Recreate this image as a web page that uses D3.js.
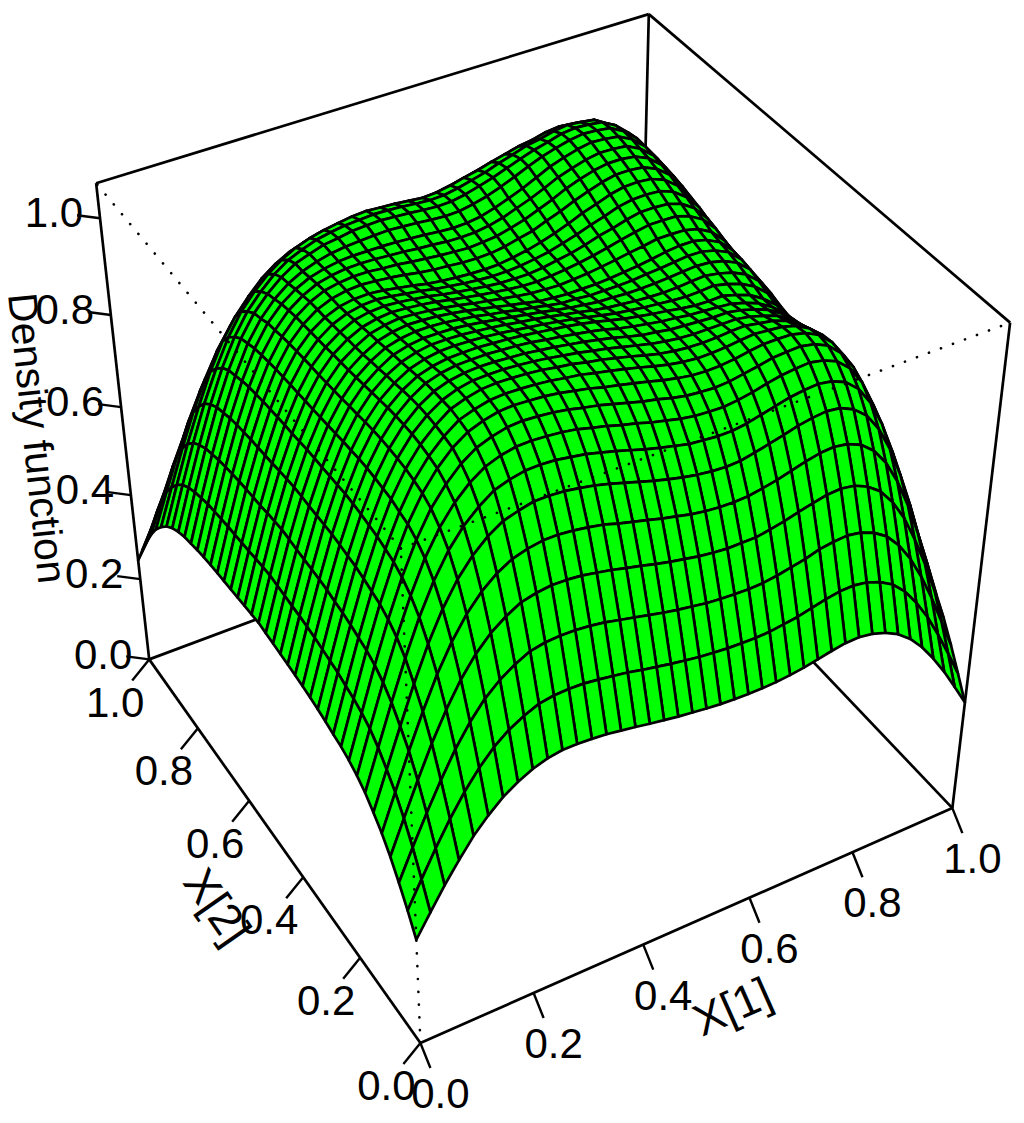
<!DOCTYPE html>
<html>
<head>
<meta charset="utf-8">
<style>
  html, body { margin: 0; padding: 0; background: #fff; }
  text { font-family: "Liberation Sans", Arial, sans-serif; fill: #000; }
</style>
<script src="https://cdn.jsdelivr.net/npm/d3@7"></script>
</head>
<body>
<div id="chart"></div>
<script>
var w = 1024;
var h = 1123;

var tickValues = [0, 0.2, 0.4, 0.6, 0.8, 1];
var tickLabels = ["0.0", "0.2", "0.4", "0.6", "0.8", "1.0"];
var zTop = 1.07;

// grid of the surface, one row per X[2], one column per X[1]
var gridX1 = d3.range(41).map(function(i) { return i / 40; });
var gridX2 = d3.range(41).map(function(i) { return i / 40; });
var density = [
[.250,.299,.347,.390,.430,.462,.489,.509,.524,.534,.539,.539,.537,.534,.529,.524,.518,.513,.508,.504,.500,.497,.495,.494,.494,.495,.498,.502,.508,.514,.519,.520,.515,.505,.490,.467,.436,.398,.355,.307,.258],
[.293,.350,.406,.458,.504,.543,.575,.599,.616,.629,.634,.635,.634,.630,.625,.620,.613,.607,.601,.596,.591,.588,.585,.584,.583,.584,.588,.592,.599,.606,.611,.612,.607,.596,.579,.552,.515,.471,.419,.363,.304],
[.332,.398,.461,.520,.574,.619,.656,.683,.703,.718,.724,.726,.725,.722,.717,.710,.703,.696,.689,.683,.678,.673,.670,.668,.667,.668,.672,.678,.684,.693,.697,.699,.694,.682,.663,.632,.591,.540,.481,.416,.349],
[.367,.439,.510,.577,.636,.687,.728,.759,.781,.798,.805,.809,.808,.805,.799,.793,.785,.778,.770,.763,.757,.751,.747,.744,.744,.744,.749,.755,.763,.770,.776,.778,.773,.760,.739,.705,.660,.602,.537,.465,.390],
[.396,.474,.551,.623,.689,.744,.789,.823,.848,.865,.874,.879,.879,.876,.871,.865,.856,.848,.840,.832,.825,.818,.813,.810,.809,.810,.815,.821,.829,.837,.843,.845,.840,.828,.805,.769,.719,.657,.585,.506,.425],
[.419,.501,.582,.660,.731,.791,.839,.875,.902,.921,.930,.937,.937,.935,.930,.924,.916,.907,.898,.889,.881,.874,.868,.864,.862,.863,.869,.876,.883,.891,.896,.899,.895,.882,.859,.821,.768,.702,.625,.541,.453],
[.440,.526,.611,.692,.765,.827,.877,.914,.941,.962,.972,.978,.979,.977,.972,.967,.959,.951,.942,.933,.925,.918,.911,.908,.905,.905,.909,.916,.923,.930,.934,.936,.931,.919,.895,.856,.802,.733,.653,.565,.474],
[.455,.545,.632,.715,.789,.853,.903,.941,.969,.989,1.000,1.006,1.007,1.005,1.002,.997,.989,.982,.973,.966,.957,.950,.943,.938,.936,.935,.938,.943,.950,.956,.959,.961,.955,.943,.919,.880,.823,.753,.672,.582,.489],
[.466,.557,.647,.731,.806,.870,.921,.958,.987,1.007,1.018,1.025,1.027,1.025,1.022,1.017,1.010,1.004,.996,.988,.980,.974,.966,.960,.957,.955,.957,.962,.967,.973,.975,.976,.970,.957,.932,.894,.838,.766,.684,.593,.499],
[.474,.566,.657,.742,.817,.882,.932,.970,.999,1.019,1.030,1.037,1.039,1.037,1.035,1.031,1.025,1.019,1.011,1.005,.998,.991,.983,.977,.972,.970,.971,.974,.979,.983,.983,.982,.975,.961,.937,.899,.843,.775,.693,.602,.506],
[.479,.572,.663,.748,.823,.887,.938,.975,1.003,1.024,1.034,1.041,1.043,1.042,1.040,1.037,1.032,1.028,1.021,1.015,1.008,1.001,.993,.986,.981,.978,.978,.980,.983,.986,.983,.980,.972,.957,.934,.896,.842,.779,.696,.605,.509],
[.485,.579,.669,.754,.829,.893,.942,.979,1.006,1.027,1.037,1.044,1.046,1.045,1.043,1.040,1.035,1.031,1.024,1.019,1.012,1.005,.997,.990,.985,.982,.981,.982,.984,.985,.980,.975,.965,.949,.926,.892,.838,.779,.697,.606,.511],
[.490,.583,.674,.759,.832,.895,.944,.981,1.007,1.026,1.037,1.043,1.044,1.044,1.042,1.039,1.035,1.030,1.025,1.019,1.013,1.006,.999,.992,.987,.983,.981,.981,.981,.981,.976,.968,.958,.941,.918,.885,.832,.777,.695,.606,.511],
[.494,.587,.677,.761,.835,.897,.945,.981,1.007,1.025,1.035,1.040,1.042,1.041,1.039,1.037,1.033,1.029,1.024,1.019,1.013,1.007,.999,.992,.988,.983,.981,.979,.977,.977,.972,.964,.953,.936,.913,.881,.829,.773,.693,.605,.512],
[.497,.591,.681,.764,.837,.898,.945,.980,1.005,1.023,1.032,1.037,1.038,1.038,1.036,1.034,1.031,1.026,1.022,1.017,1.012,1.006,.998,.992,.987,.982,.979,.975,.973,.971,.968,.960,.949,.932,.909,.877,.826,.770,.691,.604,.511],
[.500,.594,.683,.766,.838,.898,.944,.978,1.002,1.019,1.028,1.033,1.034,1.034,1.032,1.030,1.027,1.023,1.019,1.015,1.010,1.004,.997,.990,.985,.980,.976,.971,.967,.966,.967,.959,.949,.932,.910,.877,.825,.765,.688,.602,.510],
[.502,.596,.684,.766,.837,.896,.942,.975,.998,1.015,1.024,1.029,1.030,1.029,1.027,1.024,1.020,1.016,1.012,1.007,1.002,.996,.990,.984,.980,.976,.973,.970,.968,.969,.971,.964,.955,.940,.917,.882,.829,.766,.688,.602,.510],
[.504,.597,.685,.766,.836,.895,.939,.972,.995,1.011,1.020,1.025,1.025,1.024,1.021,1.018,1.014,1.009,1.005,1.000,.994,.989,.983,.978,.975,.972,.970,.969,.970,.972,.974,.969,.961,.948,.925,.889,.834,.767,.688,.602,.510],
[.506,.599,.686,.766,.835,.893,.937,.969,.991,1.008,1.016,1.020,1.020,1.019,1.016,1.012,1.007,1.002,.997,.992,.986,.981,.977,.973,.972,.970,.970,.971,.973,.975,.977,.975,.968,.955,.932,.893,.838,.768,.689,.602,.510],
[.508,.600,.688,.767,.835,.891,.934,.966,.988,1.004,1.012,1.016,1.016,1.014,1.010,1.006,1.000,.995,.989,.984,.978,.973,.972,.969,.969,.969,.970,.973,.975,.978,.981,.980,.973,.960,.936,.895,.840,.770,.690,.602,.510],
[.510,.602,.689,.767,.834,.889,.932,.963,.984,1.000,1.008,1.012,1.011,1.009,1.005,1.000,.994,.988,.982,.976,.970,.967,.965,.965,.965,.967,.970,.973,.977,.982,.985,.985,.978,.964,.938,.898,.842,.772,.690,.602,.510],
[.508,.600,.687,.765,.832,.887,.930,.961,.981,.997,1.004,1.008,1.006,1.003,.999,.994,.988,.983,.978,.973,.969,.967,.966,.968,.970,.974,.978,.983,.987,.992,.992,.991,.984,.969,.942,.902,.845,.775,.693,.603,.511],
[.506,.598,.685,.763,.830,.886,.928,.959,.979,.993,1.000,1.003,1.001,.998,.994,.988,.983,.978,.974,.970,.967,.966,.968,.971,.975,.980,.986,.993,.999,1.004,1.004,1.003,.994,.978,.950,.907,.850,.779,.695,.605,.512],
[.504,.595,.682,.760,.829,.884,.927,.956,.976,.990,.996,.998,.996,.992,.988,.982,.977,.973,.969,.966,.965,.965,.968,.973,.978,.985,.994,1.000,1.008,1.014,1.014,1.012,1.003,.985,.955,.912,.854,.782,.697,.606,.513],
[.502,.593,.680,.758,.827,.883,.925,.954,.974,.986,.992,.994,.991,.986,.982,.976,.972,.968,.965,.963,.963,.965,.969,.974,.982,.990,1.000,1.008,1.018,1.023,1.024,1.022,1.012,.992,.962,.917,.858,.785,.699,.608,.514],
[.500,.591,.678,.756,.825,.881,.923,.952,.971,.983,.988,.989,.986,.981,.976,.970,.966,.963,.961,.960,.961,.965,.970,.977,.986,.996,1.008,1.017,1.027,1.033,1.034,1.031,1.020,.999,.967,.921,.861,.788,.702,.609,.515],
[.498,.589,.676,.754,.823,.879,.921,.950,.970,.982,.988,.990,.988,.985,.981,.976,.972,.970,.967,.966,.967,.971,.978,.984,.995,1.005,1.017,1.027,1.036,1.042,1.042,1.039,1.027,1.006,.973,.925,.865,.791,.704,.611,.516],
[.496,.586,.673,.751,.820,.876,.918,.948,.968,.981,.987,.990,.990,.987,.985,.981,.978,.975,.973,.971,.973,.976,.983,.991,1.002,1.013,1.026,1.036,1.044,1.049,1.049,1.045,1.033,1.011,.977,.930,.868,.793,.705,.611,.516],
[.493,.583,.669,.748,.817,.873,.914,.944,.964,.978,.985,.989,.990,.989,.987,.985,.982,.980,.977,.976,.977,.981,.988,.998,1.008,1.020,1.033,1.042,1.050,1.055,1.054,1.051,1.037,1.015,.980,.932,.870,.794,.706,.612,.516],
[.489,.580,.665,.744,.812,.869,.911,.940,.960,.974,.982,.987,.989,.989,.989,.988,.986,.984,.981,.979,.980,.984,.992,1.002,1.013,1.026,1.039,1.048,1.056,1.061,1.059,1.055,1.041,1.018,.983,.933,.871,.794,.706,.611,.516],
[.484,.574,.659,.737,.805,.862,.903,.933,.955,.970,.980,.987,.991,.993,.995,.996,.994,.992,.989,.987,.988,.993,1.000,1.010,1.021,1.033,1.044,1.052,1.059,1.063,1.061,1.057,1.042,1.019,.982,.933,.869,.792,.704,.610,.514],
[.479,.568,.653,.731,.799,.855,.897,.927,.951,.969,.979,.988,.992,.997,.999,1.000,.998,.996,.993,.991,.992,.997,1.005,1.013,1.023,1.033,1.042,1.049,1.057,1.060,1.058,1.054,1.039,1.015,.979,.928,.864,.788,.700,.605,.510],
[.471,.559,.642,.719,.786,.841,.884,.915,.941,.960,.972,.982,.988,.992,.994,.996,.995,.993,.990,.988,.989,.994,1.001,1.008,1.018,1.026,1.035,1.040,1.047,1.051,1.048,1.044,1.028,1.004,.967,.918,.854,.777,.689,.595,.502],
[.460,.546,.628,.703,.767,.823,.866,.898,.924,.944,.959,.969,.976,.981,.985,.987,.985,.983,.980,.977,.979,.984,.991,.997,1.005,1.012,1.019,1.023,1.030,1.033,1.030,1.026,1.009,.986,.949,.899,.836,.760,.674,.583,.491],
[.444,.527,.607,.678,.743,.797,.839,.871,.899,.919,.934,.944,.952,.957,.961,.963,.961,.959,.956,.954,.956,.961,.966,.973,.980,.986,.992,.994,1.000,1.005,1.002,.997,.981,.957,.922,.873,.812,.738,.654,.565,.475],
[.423,.502,.578,.648,.709,.760,.801,.833,.860,.881,.897,.908,.915,.920,.925,.927,.925,.923,.920,.918,.920,.925,.930,.935,.941,.947,.952,.954,.960,.963,.960,.954,.939,.915,.882,.835,.775,.705,.624,.539,.453],
[.398,.472,.543,.609,.666,.713,.752,.781,.807,.826,.841,.850,.857,.861,.865,.867,.865,.863,.861,.859,.861,.864,.869,.873,.878,.883,.889,.890,.896,.899,.895,.890,.875,.854,.822,.780,.725,.659,.582,.503,.424],
[.366,.435,.500,.560,.612,.656,.691,.718,.741,.759,.772,.780,.785,.789,.792,.793,.792,.789,.787,.786,.787,.791,.795,.797,.802,.807,.811,.813,.818,.820,.817,.812,.799,.779,.751,.711,.662,.602,.534,.461,.388],
[.329,.391,.449,.503,.549,.589,.620,.645,.665,.681,.692,.698,.702,.705,.707,.708,.707,.705,.703,.701,.702,.705,.708,.711,.714,.717,.720,.722,.726,.727,.725,.721,.709,.692,.667,.634,.591,.537,.477,.412,.347],
[.289,.342,.393,.440,.481,.514,.542,.563,.580,.594,.604,.608,.611,.613,.614,.615,.614,.612,.610,.609,.610,.611,.613,.616,.618,.619,.622,.624,.626,.628,.626,.621,.611,.597,.577,.550,.512,.466,.414,.359,.302],
[.245,.291,.334,.373,.408,.436,.460,.478,.491,.502,.509,.512,.514,.515,.515,.515,.514,.513,.511,.510,.510,.511,.512,.513,.514,.515,.517,.519,.520,.520,.519,.515,.507,.496,.480,.458,.428,.391,.349,.303,.255]
];

// where known points of the box landed on the page: x1, x2, z, px, py
var cameraPins = [
  [0, 0, 0, 420, 1042], [1, 0, 0, 950, 808], [0, 1, 0, 150, 658],
  [0, 1, zTop, 97, 183], [1, 0, zTop, 1010, 322], [1, 1, zTop, 649, 14],
  [0.2, 0, 0, 533, 992], [0.4, 0, 0, 644, 945], [0.6, 0, 0, 751, 898], [0.8, 0, 0, 854, 853],
  [0, 0.2, 0, 360, 958], [0, 0.4, 0, 303, 878], [0, 0.6, 0, 249, 802], [0, 0.8, 0, 198, 728],
  [0, 1, 0.2, 139.7, 579], [0, 1, 0.4, 130.7, 495], [0, 1, 0.6, 120.7, 407.5], [0, 1, 0.8, 110.7, 315], [0, 1, 1, 99.5, 219]
];

var xScale = d3.scaleLinear().domain([0, 1]).range([0, 1]);
var yScale = d3.scaleLinear().domain([0, 1]).range([0, 1]);
var zScale = d3.scaleLinear().domain([0, zTop]).range([0, 1]);

// least squares fit of the 3x4 projection matrix (last entry fixed to 1)
function fitCamera(pins) {
  var n = 11;
  var A = d3.range(n).map(function() { return d3.range(n + 1).map(function() { return 0; }); });
  function addRow(row, rhs) {
    for (var i = 0; i < n; i++) {
      for (var j = 0; j < n; j++) A[i][j] += row[i] * row[j];
      A[i][n] += row[i] * rhs;
    }
  }
  pins.forEach(function(p) {
    var X = xScale(p[0]), Y = yScale(p[1]), Z = zScale(p[2]), u = p[3], v = p[4];
    addRow([X, Y, Z, 1, 0, 0, 0, 0, -u * X, -u * Y, -u * Z], u);
    addRow([0, 0, 0, 0, X, Y, Z, 1, -v * X, -v * Y, -v * Z], v);
  });
  for (var c = 0; c < n; c++) {
    var best = c;
    for (var r = c + 1; r < n; r++) if (Math.abs(A[r][c]) > Math.abs(A[best][c])) best = r;
    var tmp = A[c]; A[c] = A[best]; A[best] = tmp;
    for (var r2 = 0; r2 < n; r2++) {
      if (r2 === c) continue;
      var f = A[r2][c] / A[c][c];
      for (var k = c; k <= n; k++) A[r2][k] -= f * A[c][k];
    }
  }
  return d3.range(n).map(function(i) { return A[i][n] / A[i][i]; });
}

var cam = fitCamera(cameraPins);

function project(x1, x2, z) {
  var X = xScale(x1), Y = yScale(x2), Z = zScale(z);
  var d = cam[8] * X + cam[9] * Y + cam[10] * Z + 1;
  return [
    (cam[0] * X + cam[1] * Y + cam[2] * Z + cam[3]) / d,
    (cam[4] * X + cam[5] * Y + cam[6] * Z + cam[7]) / d
  ];
}

var svg = d3.select("#chart").append("svg")
  .attr("width", w)
  .attr("height", h)
  .style("display", "block");

function boxLine(a, b, dotted) {
  var p = project(a[0], a[1], a[2]), q = project(b[0], b[1], b[2]);
  var l = svg.append("line")
    .attr("x1", p[0]).attr("y1", p[1])
    .attr("x2", q[0]).attr("y2", q[1])
    .attr("stroke", "#000");
  if (dotted) {
    l.attr("stroke-width", 2.6)
      .attr("stroke-linecap", "round")
      .attr("stroke-dasharray", "0.1 12.7");
  } else {
    l.attr("stroke-width", 2.7);
  }
}

// Box edges behind the surface
var solidEdges = [
  [[0, 0, 0], [1, 0, 0]], [[0, 0, 0], [0, 1, 0]],
  [[0, 1, 0], [1, 1, 0]], [[1, 0, 0], [1, 1, 0]],
  [[0, 1, 0], [0, 1, zTop]], [[1, 0, 0], [1, 0, zTop]], [[1, 1, 0], [1, 1, zTop]],
  [[0, 1, zTop], [1, 1, zTop]], [[1, 0, zTop], [1, 1, zTop]]
];
solidEdges.forEach(function(e) { boxLine(e[0], e[1], false); });

// Surface cells, far corner first so the near ones paint over them
var cells = [];
for (var j = gridX2.length - 2; j >= 0; j--) {
  for (var i = gridX1.length - 2; i >= 0; i--) {
    cells.push([
      project(gridX1[i], gridX2[j], density[j][i]),
      project(gridX1[i + 1], gridX2[j], density[j][i + 1]),
      project(gridX1[i + 1], gridX2[j + 1], density[j + 1][i + 1]),
      project(gridX1[i], gridX2[j + 1], density[j + 1][i])
    ]);
  }
}
var cellLine = d3.line().curve(d3.curveLinearClosed);
svg.append("g").selectAll("path")
  .data(cells)
  .enter()
  .append("path")
  .attr("d", cellLine)
  .attr("fill", "#00ff00")
  .attr("stroke", "#000")
  .attr("stroke-width", 2.7)
  .attr("stroke-linejoin", "round");

// Front edges of the box show as dots on top
boxLine([0, 0, 0], [0, 0, zTop], true);
boxLine([0, 0, zTop], [0, 1, zTop], true);
boxLine([0, 0, zTop], [1, 0, zTop], true);

function addAxis(base, tick, labels, values) {
  values.forEach(function(v, i) {
    var p = base(v);
    svg.append("line")
      .attr("x1", p[0]).attr("y1", p[1])
      .attr("x2", p[0] + tick[0]).attr("y2", p[1] + tick[1])
      .attr("stroke", "#000").attr("stroke-width", 2.4);
    svg.append("text")
      .attr("x", p[0] + 2 * tick[0])
      .attr("y", p[1] + 2 * tick[1])
      .attr("dy", "0.36em")
      .attr("text-anchor", "middle")
      .attr("font-size", 42)
      .text(labels[i]);
  });
}

addAxis(function(v) { return project(v, 0, 0); }, [10, 25], tickLabels, tickValues);
addAxis(function(v) { return project(0, v, 0); }, [-17, 21], tickLabels, tickValues);
addAxis(function(v) { return project(0, 1, v); }, [-23, -3], tickLabels, tickValues);

function addTitle(txt, x, y, angle, size) {
  svg.append("text")
    .attr("transform", "translate(" + x + "," + y + ") rotate(" + angle + ")")
    .attr("dy", "0.36em")
    .attr("text-anchor", "middle")
    .attr("font-size", size)
    .text(txt);
}
addTitle("X[1]", 732, 1006, -24, 45);
addTitle("X[2]", 218, 906, 55, 45);
addTitle("Density function", 38, 438, 84, 41);
</script>
</body>
</html>
